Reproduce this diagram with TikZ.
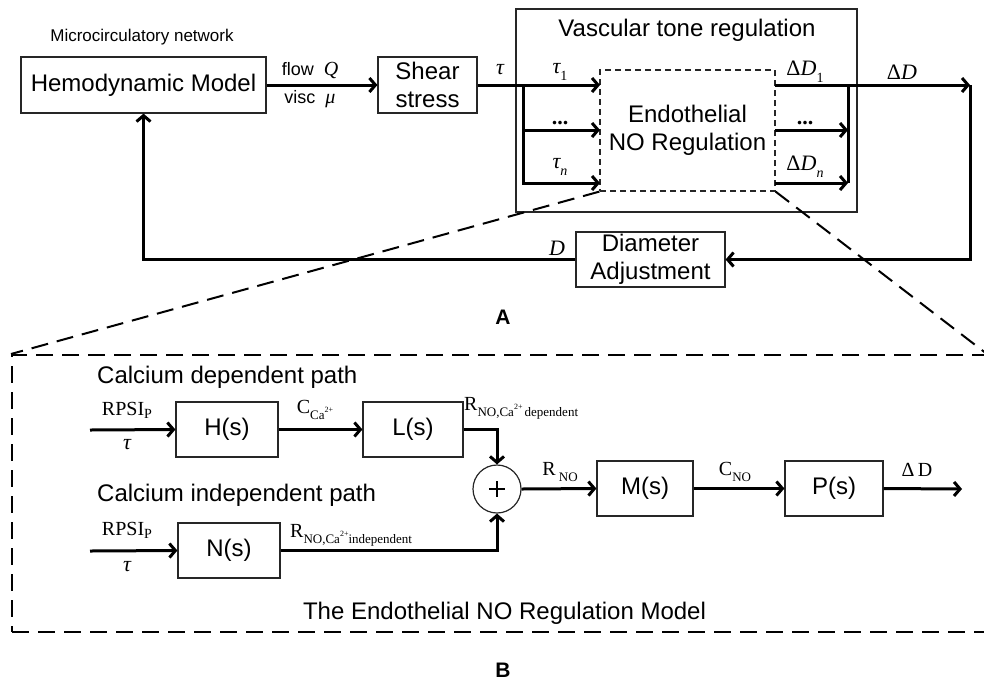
\documentclass[tikz,border=0pt]{standalone}
\usepackage{fontspec}
\setmainfont{Liberation Sans}
\newfontfamily\tms{Liberation Serif}
\usetikzlibrary{arrows.meta}

% small lowered index and the calcium ion
\newcommand\lowtxt[1]{\raisebox{-0.3em}{\fontsize{14}{14}\selectfont #1}}
\newcommand\ionsub[1]{\raisebox{-0.3em}{\fontsize{13}{13}\selectfont #1}}
\newcommand\caion{Ca\raisebox{0.55em}{\fontsize{8}{8}\selectfont 2+}}

\tikzset{
  blk/.style={draw=black!85, line width=1.2pt, align=center, inner sep=0pt,
    font=\fontsize{24}{28}\selectfont},
  sig/.style={line width=3pt, -{Straight Barb[length=6pt,width=14pt]}},
  wire/.style={line width=3pt},
  lbl/.style={font=\tms\fontsize{22}{22}\selectfont, inner sep=0pt},
  val/.style={font=\tms\fontsize{20}{20}\selectfont, inner sep=0pt},
  ttl/.style={font=\fontsize{24}{28}\selectfont, inner sep=0pt},
  zoomln/.style={line width=2pt, dash pattern=on 17pt off 9pt},
}

\begin{document}
\begin{tikzpicture}[x=1pt,y=-1pt]
\useasboundingbox (0,0) rectangle (984,681);

%% A: network loop
\node[font=\fontsize{17}{17}\selectfont, inner sep=0pt] (net) at (142,37) {Microcirculatory network};
\node[blk, minimum width=245pt, minimum height=56pt] (hemo) at (143.5,85) {Hemodynamic Model};
\node[blk, minimum width=99pt, minimum height=56pt] (shear) at (427.5,85) {Shear\\stress};
\node[draw=black!85, line width=1.2pt, minimum width=341pt, minimum height=203pt] (vtr) at (686.5,110.5) {};
\node[ttl] (vtrlbl) at (687,30) {Vascular tone regulation};
\node[blk, dashed, dash pattern=on 6pt off 4pt, minimum width=175pt, minimum height=121pt] (endo) at (687.5,130.5) {Endothelial\\NO Regulation};
\node[blk, minimum width=149pt, minimum height=55pt] (diam) at (650.5,259.5) {Diameter\\Adjustment};

\foreach \y/\n in {85/1,130/2,183/3}{
  \coordinate (i\n) at (600,\y);
  \coordinate (o\n) at (775,\y);
}
\coordinate (split) at (523,85);
\coordinate (join) at (848,85);
\coordinate (rc) at (970,85);

\draw[sig] (hemo.east) -- (shear.west);
\draw[sig] (shear.east) -- (i1);
\draw[sig] (split) |- (i3);
\draw[sig] (split |- i2) -- (i2);
\draw[sig] (o2) -- (join |- o2);
\draw[sig] (o3) -- (join |- o3);
\draw[wire] (join) -- (join |- o3);
\draw[sig] (o1) -- (rc);
\draw[sig] (rc) |- (diam.east);
\draw[sig] (diam.west) -| (hemo.south);

\node[font=\fontsize{18}{18}\selectfont, inner sep=0pt] (flowq) at (310,70) {flow\hspace{10pt}{\tms\itshape\fontsize{20}{20}\selectfont Q}};
\node[font=\fontsize{18}{18}\selectfont, inner sep=0pt] (viscmu) at (310,99) {visc\hspace{10pt}{\tms\itshape\fontsize{20}{20}\selectfont μ}};
\node[lbl] (tau) at (500,70) {\itshape τ};
\node[lbl] (tau1) at (560,72) {\itshape τ\lowtxt{\upshape 1}};
\node[lbl] (taudots) at (560,123) {\bfseries ...};
\node[lbl] (taun) at (560,167) {\itshape τ\lowtxt{n}};
\node[lbl] (dd1) at (805,72) {Δ\itshape D\lowtxt{\upshape 1}};
\node[lbl] (dddots) at (805,123) {\bfseries ...};
\node[lbl] (ddn) at (805,167) {Δ\itshape D\lowtxt{n}};
\node[lbl] (dd) at (902,72) {Δ\itshape D};
\node[lbl] (dlbl) at (557,248) {\itshape D};

\node[font=\bfseries\fontsize{21}{21}\selectfont, inner sep=0pt] (parta) at (503,317) {A};

%% B: endothelial NO model
\node[draw, zoomln, minimum width=974pt, minimum height=277pt] (bbox) at (499,493.5) {};
\draw[zoomln] (endo.south west) -- (bbox.north west);
\draw[zoomln] (endo.south east) -- (bbox.north east);

\node[ttl, anchor=west] (cadep) at (97,377) {Calcium dependent path};
\node[ttl, anchor=west] (caind) at (97,495) {Calcium independent path};
\node[ttl] (modlbl) at (504.5,613) {The Endothelial NO Regulation Model};

\node[blk, minimum width=102pt, minimum height=55pt] (H) at (227,429.5) {H(s)};
\node[blk, minimum width=100pt, minimum height=55pt] (L) at (413,429.5) {L(s)};
\node[blk, minimum width=102pt, minimum height=55pt] (N) at (229,550.5) {N(s)};
\node[draw=black!85, line width=1.2pt, circle, minimum size=48pt, inner sep=0pt] (sum) at (497,489) {};
\draw[line width=2.5pt] (sum.center) ++(-8,0) -- ++(16,0);
\draw[line width=2.5pt] (sum.center) ++(0,-8) -- ++(0,16);
\node[blk, minimum width=96pt, minimum height=55pt] (M) at (645,488.5) {M(s)};
\node[blk, minimum width=98pt, minimum height=55pt] (P) at (834,488.5) {P(s)};

\coordinate (inH) at (90,430);
\coordinate (inN) at (90,551);
\coordinate (out) at (962,489);

\draw[sig] (inH) -- (H.west);
\draw[sig] (H.east) -- (L.west);
\draw[sig] (L.east) -| (sum.north);
\draw[sig] (inN) -- (N.west);
\draw[sig] (N.east) -| (sum.south);
\draw[sig] (sum.east) -- (M.west);
\draw[sig] (M.east) -- (P.west);
\draw[sig] (P.east) -- (out);

\node[val] (rpsi1) at (127,410) {RPSI\raisebox{-0.15em}{\fontsize{14}{14}\selectfont P}};
\node[lbl] (tauh) at (127,445) {\itshape τ};
\node[val] (rpsi2) at (127,530) {RPSI\raisebox{-0.15em}{\fontsize{14}{14}\selectfont P}};
\node[lbl] (taun2) at (127,567) {\itshape τ};
\node[val] (cca) at (315,410) {C\ionsub{\caion}};
\node[val, anchor=west] (rdep) at (464,408) {R\ionsub{NO,\caion\,dependent}};
\node[val, anchor=west] (rind) at (290,535) {R\ionsub{NO,\caion independent}};
\node[val] (rno) at (560,472) {R\,\ionsub{NO}};
\node[val] (cno) at (735,472) {C\ionsub{NO}};
\node[val] (ddb) at (917,470) {Δ\,D};

\node[font=\bfseries\fontsize{21}{21}\selectfont, inner sep=0pt] (partb) at (503,670) {B};
\end{tikzpicture}
\end{document}
